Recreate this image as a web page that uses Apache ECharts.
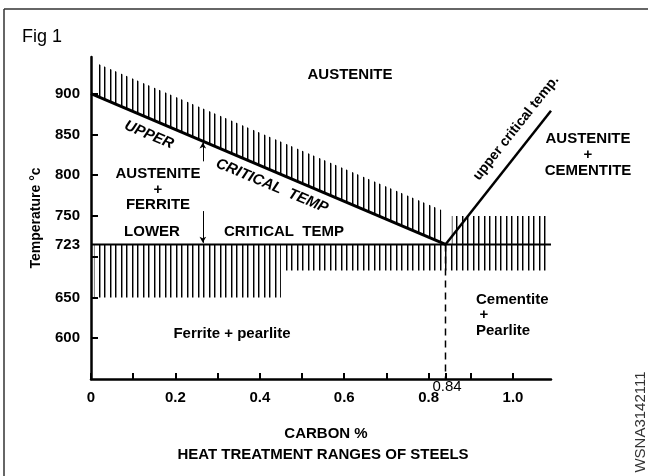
<!DOCTYPE html>
<html><head><meta charset="utf-8">
<script src="https://cdn.jsdelivr.net/npm/echarts@6/dist/echarts.min.js"></script>
<style>html,body{margin:0;padding:0;background:#fff}#c{width:648px;height:476px}</style>
</head><body><div id="c"></div><script>
// ---- data (carbon %, temperature °C) ----
const xTickValues = [0, 0.1, 0.2, 0.3, 0.4, 0.5, 0.6, 0.7, 0.8, 0.84, 0.9, 1.0];
const xLabelValues = [0, 0.2, 0.4, 0.6, 0.8, 1.0];
const xLabelTexts = ['0', '0.2', '0.4', '0.6', '0.8', '1.0'];
const yTickValues = [600, 650, 700, 750, 800, 850, 900];
const yLabelValues = [600, 650, 715, 750, 800, 850, 900];
const yLabelTexts = ['600', '650', '723', '750', '800', '850', '900'];

const upperCritical = [[0, 900], [0.84, 715]];
const lowerCritical = [[0, 715], [1.09, 715]];
const upperCriticalCm = [[0.84, 715], [1.09, 879]];
const eutectoid = [[0.84, 715], [0.84, 550]];
const arrowUp = [[0.265, 817], [0.265, 840]];
const arrowDown = [[0.265, 756], [0.265, 717]];

const hatchAboveUpper = [[0.012, 897.4], [0.012, 937.5], [0.83, 757.2], [0.83, 717.2]];
const hatchAboveRight = [[0.855, 715], [0.855, 750], [1.08, 750], [1.08, 715]];
const hatchBelowLeft = [[0.007, 715], [0.007, 650], [0.45, 650], [0.45, 715]];
const hatchBelowRight = [[0.46, 715], [0.46, 683], [1.08, 683], [1.08, 715]];
const hatchRegions = [hatchAboveUpper, hatchAboveRight, hatchBelowLeft, hatchBelowRight];

// ---- styles ----
const FONT = '"Liberation Sans", Arial, Helvetica, sans-serif';
const pc = document.createElement('canvas');
pc.width = 11; pc.height = 4;
const g = pc.getContext('2d');
g.fillStyle = '#000'; g.fillRect(0, 0, 1, 4); g.fillRect(5, 0, 1, 4);
g.fillStyle = 'rgba(0,0,0,0.45)'; g.fillRect(1, 0, 1, 4); g.fillRect(6, 0, 1, 4);
const hatchPattern = { image: pc, repeat: 'repeat' };

function txt(text, x, y, opt) {
  opt = opt || {};
  return {
    type: 'text', x: x, y: y, rotation: opt.rot || 0, silent: true, z: 50,
    style: {
      text: text, fill: opt.color || '#000',
      font: (opt.italic ? 'italic ' : '') + (opt.weight || 'bold') + ' ' + (opt.size || 15) + 'px ' + FONT,
      align: opt.align || 'center', verticalAlign: 'middle'
    }
  };
}

const chart = echarts.init(document.getElementById('c'), null, { renderer: 'canvas' });
chart.setOption({
  animation: false,
  backgroundColor: '#fff',
  grid: { left: 91, right: 97, top: 57, bottom: 97 },
  xAxis: {
    type: 'value', min: 0, max: 1.09, interval: 0.1,
    axisLine: { show: true, lineStyle: { color: '#000', width: 2.5 } },
    axisTick: { show: true, inside: true, length: 6, customValues: xTickValues, lineStyle: { color: '#000', width: 2 } },
    axisLabel: {
      customValues: xLabelValues, margin: 11,
      formatter: v => xLabelTexts[xLabelValues.findIndex(a => Math.abs(a - v) < 1e-6)] || '',
      color: '#000', fontWeight: 'bold', fontSize: 15, fontFamily: FONT
    },
    splitLine: { show: false }
  },
  yAxis: {
    type: 'value', min: 550, max: 945, interval: 50,
    name: 'Temperature °c', nameLocation: 'middle', nameGap: 48,
    nameTextStyle: { color: '#000', fontWeight: 'bold', fontSize: 14, fontFamily: FONT },
    axisLine: { show: true, lineStyle: { color: '#000', width: 2.5 } },
    axisTick: { show: true, inside: true, length: 7, customValues: yTickValues, lineStyle: { color: '#000', width: 2 } },
    axisLabel: {
      customValues: yLabelValues, margin: 11,
      formatter: v => yLabelTexts[yLabelValues.indexOf(v)] || '',
      color: '#000', fontWeight: 'bold', fontSize: 15, fontFamily: FONT
    },
    splitLine: { show: false }
  },
  series: [
    {
      type: 'custom', silent: true, z: 1,
      data: hatchRegions.map(r => r[0]),
      renderItem: function (params, api) {
        const poly = hatchRegions[params.dataIndex];
        return { type: 'polygon', shape: { points: poly.map(p => api.coord(p)) }, style: { fill: hatchPattern } };
      }
    },
    { type: 'line', data: upperCritical, symbol: 'none', silent: true, z: 5, lineStyle: { color: '#000', width: 3 } },
    { type: 'line', data: lowerCritical, symbol: 'none', silent: true, z: 5, lineStyle: { color: '#000', width: 2.2 } },
    { type: 'line', data: upperCriticalCm, symbol: 'none', silent: true, z: 5, lineStyle: { color: '#000', width: 2.5 } },
    { type: 'line', data: eutectoid, symbol: 'none', silent: true, z: 4, lineStyle: { color: '#000', width: 1.5, type: [7, 5] } },
    {
      type: 'line', data: [], silent: true, z: 5,
      markLine: {
        silent: true, symbol: ['none', 'arrow'], symbolSize: [5, 6], label: { show: false },
        lineStyle: { color: '#000', width: 1, type: 'solid' },
        data: [
          [{ coord: arrowUp[0] }, { coord: arrowUp[1] }],
          [{ coord: arrowDown[0] }, { coord: arrowDown[1] }]
        ]
      }
    }
  ],
  graphic: [
    { type: 'line', silent: true, shape: { x1: 4, y1: 9, x2: 648, y2: 9 }, style: { stroke: '#333', lineWidth: 1.5 } },
    { type: 'line', silent: true, shape: { x1: 4, y1: 9, x2: 4, y2: 476 }, style: { stroke: '#333', lineWidth: 1.5 } },
    txt('Fig 1', 22, 37, { weight: 'normal', size: 18, align: 'left' }),
    txt('AUSTENITE', 350, 75),
    txt('UPPER', 149, 135, { rot: -0.396, italic: true }),
    txt('CRITICAL  TEMP', 272, 186, { rot: -0.396, italic: true }),
    txt('AUSTENITE', 158, 174),
    txt('+', 158, 190),
    txt('FERRITE', 158, 205),
    txt('LOWER', 152, 232),
    txt('CRITICAL  TEMP', 284, 232),
    txt('upper critical temp.', 516, 128, { rot: 0.9, size: 14 }),
    txt('AUSTENITE', 588, 139),
    txt('+', 588, 155),
    txt('CEMENTITE', 588, 171),
    txt('Ferrite + pearlite', 232, 334),
    txt('Cementite', 476, 300, { align: 'left' }),
    txt('+', 484, 315),
    txt('Pearlite', 476, 331, { align: 'left' }),
    txt('0.84', 447, 387, { weight: 'normal', size: 15 }),
    txt('CARBON %', 326, 434),
    txt('HEAT TREATMENT RANGES OF STEELS', 323, 455),
    txt('WSNA3142111', 641, 422, { weight: 'normal', size: 15, rot: Math.PI / 2, color: '#333' })
  ]
});
</script></body></html>
